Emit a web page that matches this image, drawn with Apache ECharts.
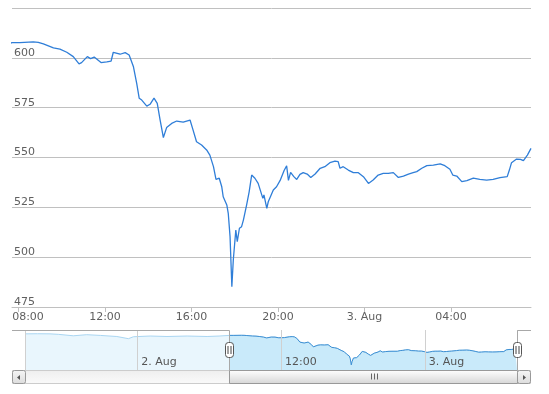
<!DOCTYPE html>
<html><head><meta charset="utf-8">
<script src="https://cdn.jsdelivr.net/npm/echarts@6/dist/echarts.min.js"></script>
<style>html,body{margin:0;padding:0;background:#fff}#c{width:549px;height:394px}</style>
</head><body><div id="c"></div>
<script>
// ---- data ----
const times = [
"08-01 14:38","08-01 15:40","08-01 16:43","08-01 17:25","08-01 18:40","08-01 19:47","08-01 20:55","08-01 22:18",
"08-01 23:16","08-01 23:41","08-02 01:05","08-02 02:29","08-02 04:10","08-02 05:50","08-02 06:50",
"08-02 07:42","08-02 08:04","08-02 08:41","08-02 08:55","08-02 09:09","08-02 09:37","08-02 09:55","08-02 10:14",
"08-02 10:32","08-02 10:48","08-02 10:55","08-02 11:11","08-02 11:20","08-02 11:30","08-02 11:49","08-02 12:05",
"08-02 12:17","08-02 12:23","08-02 12:42","08-02 12:56","08-02 13:07","08-02 13:19","08-02 13:28","08-02 13:35",
"08-02 13:42","08-02 13:56","08-02 14:05","08-02 14:16","08-02 14:25","08-02 14:33","08-02 14:42","08-02 14:51",
"08-02 15:05","08-02 15:19","08-02 15:37","08-02 15:56","08-02 16:03","08-02 16:14","08-02 16:28","08-02 16:42",
"08-02 16:51","08-02 17:01","08-02 17:08","08-02 17:17","08-02 17:24","08-02 17:28","08-02 17:38","08-02 17:42",
"08-02 17:47","08-02 17:52","08-02 17:56","08-02 18:03","08-02 18:07","08-02 18:13","08-02 18:19","08-02 18:24",
"08-02 18:33","08-02 18:40","08-02 18:47","08-02 18:56","08-02 19:05","08-02 19:10","08-02 19:18","08-02 19:21",
"08-02 19:29","08-02 19:33","08-02 19:38","08-02 19:47","08-02 19:56","08-02 20:06","08-02 20:17","08-02 20:24",
"08-02 20:29","08-02 20:35","08-02 20:44","08-02 20:52","08-02 21:01","08-02 21:10","08-02 21:21","08-02 21:31",
"08-02 21:43","08-02 21:57","08-02 22:10","08-02 22:24","08-02 22:38","08-02 22:47","08-02 22:52","08-02 23:01",
"08-02 23:15","08-02 23:29","08-02 23:43","08-02 23:57","08-03 00:11","08-03 00:24","08-03 00:38","08-03 00:52",
"08-03 01:06","08-03 01:20","08-03 01:34","08-03 01:48","08-03 02:02","08-03 02:15","08-03 02:25","08-03 02:39",
"08-03 02:53","08-03 03:11","08-03 03:30","08-03 03:43","08-03 03:57","08-03 04:05","08-03 04:16","08-03 04:30",
"08-03 04:44","08-03 05:02","08-03 05:20","08-03 05:39","08-03 05:57","08-03 06:16","08-03 06:36","08-03 06:42",
"08-03 06:48","08-03 07:02","08-03 07:13","08-03 07:21","08-03 07:32","08-03 07:42"
];
const prices = [
614,614.5,614,612,606,610.5,607.5,603,
594,602,605,603,605,603,605,
607.6,607.6,608,607.8,607,605,604.4,602.8,
600.6,597,597.6,600.6,599.6,600.4,597.6,598,
598.4,602.8,601.8,602.6,601.4,595.5,587.2,579.7,
578.8,575.8,576.7,579.8,577.2,568.8,560,565,
567.1,568.3,567.7,568.8,564.6,557.9,556.3,553.8,
551.2,545.4,539,539.6,535.3,530.3,526.2,522,
510.3,485.2,498.6,513.6,507.8,514.5,515.3,518.6,
526.2,532.8,541.2,539.6,537,537.9,529.5,531.2,
524.5,527.8,527.3,533.7,535.3,538.5,543.5,545.8,
538.5,542.5,540.4,539,541.5,542.4,541.7,540,
541.7,544.6,545.4,547.4,548.2,547.9,544.6,545.4,
543.7,542.4,542.4,540.4,537,538.7,541.2,542,
542,542.4,540,540.7,541.7,542.4,542.9,544.6,
545.9,546.2,546.8,545.9,544.1,541.2,540.7,537.9,
538.4,539.6,539,538.7,539,539.9,540.4,543.7,
547.4,549.2,549.1,548.4,551.2,554.6
];
const viewRange = ["08-02 07:42", "08-03 07:42"];
const yTicks = [475, 500, 525, 550, 575, 600, 625];
const monthName = "Aug";

// ---- helpers ----
function ts(s) {
  const [md, hm] = s.split(' ');
  const [mo, d] = md.split('-').map(Number);
  const [h, m] = hm.split(':').map(Number);
  return Date.UTC(2013, mo - 1, d, h, m);
}
const HOUR = 3600 * 1000;
const series = times.map((t, i) => [ts(t), prices[i]]);
const vStart = ts(viewRange[0]), vEnd = ts(viewRange[1]);
const selected = series.filter(p => p[0] >= vStart && p[0] <= vEnd);
const firstMainTick = Math.ceil(vStart / (4 * HOUR)) * 4 * HOUR;
function fmt(v) {
  const d = new Date(v);
  const h = d.getUTCHours(), m = d.getUTCMinutes();
  if (h === 0 && m === 0) return d.getUTCDate() + '. ' + monthName;
  return String(h).padStart(2, '0') + ':' + String(m).padStart(2, '0');
}
function fmtMain(v) {
  const s = fmt(v);
  return v === firstMainTick ? '{f|' + s + '}' : s;
}

// ---- layout ----
const W = 549, PL = 12, PR = 531, PT = 8, PB = 307;
const NL = 25, NR = 517, NT = 330, NB = 370, SB = 384;
const FONT = 'DejaVu Sans';

const chart = echarts.init(document.getElementById('c'), null, { renderer: 'canvas' });
chart.setOption({
  useUTC: true,
  animation: false,
  backgroundColor: '#fff',
  textStyle: { fontFamily: FONT },
  grid: [
    { left: PL, right: W - PR, top: PT, height: PB - PT },
    { left: NL, right: W - NR, top: NT, height: NB - NT }
  ],
  xAxis: [
    {
      type: 'time', gridIndex: 0, min: vStart, max: vEnd, splitNumber: 6,
      axisLine: { lineStyle: { color: '#c0c0c0' } },
      axisTick: { show: true, length: 5, lineStyle: { color: '#c0c0c0' } },
      splitLine: { show: false },
      axisLabel: { color: '#606060', fontSize: 11, margin: 5, formatter: fmtMain,
        showMinLabel: false, showMaxLabel: false,
        rich: { f: { color: '#606060', fontSize: 11, padding: [0, 0, 0, 19] } } }
    },
    {
      type: 'time', gridIndex: 1, min: series[0][0], max: series[series.length - 1][0],
      splitNumber: 3, z: 5,
      axisLine: { show: false }, axisTick: { show: false },
      splitLine: { show: true, lineStyle: { color: '#d0d0d0', width: 1 } },
      axisLabel: { inside: true, align: 'left', margin: 2, padding: [0, 0, 0, 4],
        color: '#555', fontSize: 11, formatter: fmt, showMinLabel: false, showMaxLabel: false }
    }
  ],
  yAxis: [
    {
      type: 'value', gridIndex: 0, min: yTicks[0], max: yTicks[yTicks.length - 1],
      interval: yTicks[1] - yTicks[0],
      axisLine: { show: false }, axisTick: { show: false },
      splitLine: { lineStyle: { color: '#c0c0c0' } },
      axisLabel: { inside: true, margin: 2, verticalAlign: 'bottom', lineHeight: 10, color: '#606060',
        fontSize: 11, showMaxLabel: false }
    },
    { type: 'value', gridIndex: 1, min: 464, max: 630, show: false }
  ],
  series: [
    {
      type: 'line', xAxisIndex: 0, yAxisIndex: 0, data: series, showSymbol: false,
      lineStyle: { color: '#2f7ed8', width: 1.3 }, clip: true, z: 3
    },
    {
      type: 'line', xAxisIndex: 1, yAxisIndex: 1, data: series, showSymbol: false,
      lineStyle: { color: '#aad6f2', width: 1 },
      areaStyle: { color: '#e9f6fd', opacity: 1 }, z: 2
    },
    {
      type: 'line', xAxisIndex: 1, yAxisIndex: 1, data: selected, showSymbol: false,
      lineStyle: { color: '#3d8fd3', width: 1 },
      areaStyle: { color: '#c9eafa', opacity: 1 }, z: 3
    }
  ]
});

// ---- navigator chrome (handles, outline, scrollbar) ----
const xL = Math.round(chart.convertToPixel({ xAxisIndex: 1 }, vStart)) + 0.5;
const xR = Math.round(chart.convertToPixel({ xAxisIndex: 1 }, vEnd)) + 0.5;
const grey = '#a8a8a8';
const btnFill = new echarts.graphic.LinearGradient(0, 0, 0, 1, [{ offset: 0, color: '#f6f6f6' }, { offset: 1, color: '#dcdcdc' }]);
const thumbFill = new echarts.graphic.LinearGradient(0, 0, 0, 1, [{ offset: 0, color: '#ffffff' }, { offset: 1, color: '#d6d6d6' }]);
const trackFill = new echarts.graphic.LinearGradient(0, 0, 0, 1, [{ offset: 0, color: '#eeeeee' }, { offset: 1, color: '#fafafa' }]);
function handle(x) {
  return [
    { type: 'rect', z: 120, shape: { x: x - 4, y: 342.5, width: 8, height: 15, r: 3 },
      style: { fill: '#fff', stroke: '#555', lineWidth: 1 } },
    { type: 'line', z: 121, shape: { x1: x - 1.5, y1: 346, x2: x - 1.5, y2: 354 }, style: { stroke: '#444', lineWidth: 1 } },
    { type: 'line', z: 121, shape: { x1: x + 1.5, y1: 346, x2: x + 1.5, y2: 354 }, style: { stroke: '#444', lineWidth: 1 } }
  ];
}
const cx = Math.round((xL + xR) / 2) + 0.5;
chart.setOption({
  graphic: [
    { type: 'polyline', z: 110, shape: { points: [[PL, NT + 0.5], [xL, NT + 0.5], [xL, NB]] }, style: { stroke: grey, lineWidth: 1, fill: null } },
    { type: 'polyline', z: 110, shape: { points: [[xR, NB], [xR, NT + 0.5], [PR, NT + 0.5]] }, style: { stroke: grey, lineWidth: 1, fill: null } },
    { type: 'rect', z: 100, shape: { x: PL + 0.5, y: NB + 0.5, width: PR - PL - 1, height: SB - NB - 1 }, style: { fill: trackFill, stroke: '#cccccc' } },
    { type: 'rect', z: 105, shape: { x: xL, y: NB + 0.5, width: xR - xL, height: SB - NB - 1 }, style: { fill: thumbFill, stroke: '#999999' } },
    { type: 'line', z: 106, shape: { x1: cx - 3, y1: 373.5, x2: cx - 3, y2: 379.5 }, style: { stroke: '#666', lineWidth: 1 } },
    { type: 'line', z: 106, shape: { x1: cx, y1: 373.5, x2: cx, y2: 379.5 }, style: { stroke: '#666', lineWidth: 1 } },
    { type: 'line', z: 106, shape: { x1: cx + 3, y1: 373.5, x2: cx + 3, y2: 379.5 }, style: { stroke: '#666', lineWidth: 1 } },
    { type: 'rect', z: 107, shape: { x: PL + 0.5, y: NB + 0.5, width: NL - PL, height: SB - NB - 1, r: 2 }, style: { fill: btnFill, stroke: '#999' } },
    { type: 'polygon', z: 108, shape: { points: [[17, 377.5], [20, 375], [20, 380]] }, style: { fill: '#555' } },
    { type: 'rect', z: 107, shape: { x: NR + 0.5, y: NB + 0.5, width: PR - NR - 1, height: SB - NB - 1, r: 2 }, style: { fill: btnFill, stroke: '#999' } },
    { type: 'polygon', z: 108, shape: { points: [[526, 377.5], [523, 375], [523, 380]] }, style: { fill: '#555' } }
  ].concat(handle(xL), handle(xR))
});
</script></body></html>
